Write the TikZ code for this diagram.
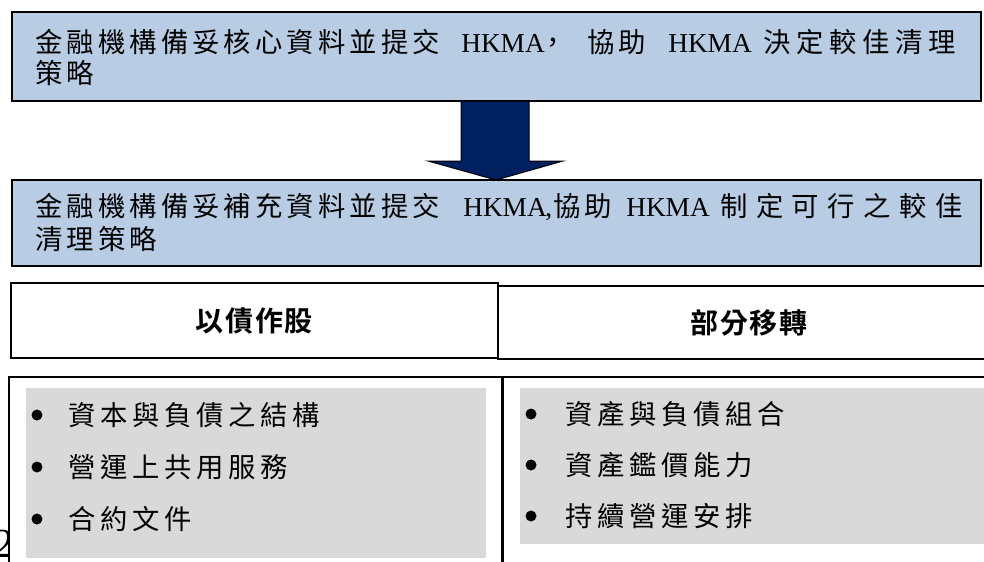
\documentclass[tikz,border=0pt]{standalone}
\usepackage{fontspec}
\setmainfont{Liberation Serif}
\newfontfamily\cjk[LetterSpace=15]{Noto Sans CJK TC}
\newfontfamily\cjkl[LetterSpace=17]{Noto Sans CJK TC}
\newfontfamily\cjkm[LetterSpace=21]{Noto Sans CJK TC}
\newfontfamily\cjkw[LetterSpace=31]{Noto Sans CJK TC}
\newfontfamily\cjkh[LetterSpace=6]{Noto Sans CJK TC Bold}
\newdimen\pxu \pxu=0.75pt
\newcommand\mkseg[2]{\makebox[#1\pxu][l]{#2}}
\definecolor{boxblue}{HTML}{B8CCE4}
\definecolor{navy}{HTML}{002060}
\definecolor{framegray}{HTML}{D9D9D9}
\tikzset{
  bluebox/.style={draw=black, line width=1.6\pxu, fill=boxblue, inner sep=0pt},
  headbox/.style={draw=black, line width=1.6\pxu, fill=white, inner sep=0pt,
    font=\fontsize{21pt}{24pt}\selectfont\cjkh},
  listbox/.style={draw=black, line width=2.4\pxu, fill=white, inner sep=0pt},
  grayframe/.style={fill=framegray, draw=none, inner sep=0pt},
  txt/.style={anchor=west, inner sep=0pt, font=\fontsize{20.5pt}{24pt}\selectfont},
  item/.style={txt, font=\fontsize{20.5pt}{24pt}\selectfont\cjkl},
  dot/.style={circle, fill=black, inner sep=0pt, minimum size=11\pxu},
  bigarrow/.style={fill=navy, draw=black, line width=1\pxu, line join=miter}
}
\begin{document}
\begin{tikzpicture}[x=0.75pt, y=-0.75pt]
\useasboundingbox (0,0) rectangle (984,561);

% stray page-number glyph partly hidden behind the list box
\node[anchor=south, inner sep=0pt, font=\fontsize{31pt}{31pt}\selectfont] (pg) at (4,558) {2};

% top box
\node[bluebox, minimum width=969\pxu, minimum height=89\pxu] (b1) at (496.5,56.5) {};
\node[txt] (t1a) at (35,42) {\mkseg{426}{\cjk 金融機構備妥核心資料並提交}\mkseg{78}{HKMA}\mkseg{48}{\cjk ，}\mkseg{81}{\cjk 協助}\mkseg{95}{HKMA}{\cjkm 決定較佳清理}};
\node[txt] (t1b) at (35,73) {\cjk 策略};

% second box
\node[bluebox, minimum width=969\pxu, minimum height=86\pxu] (b2) at (496.5,223) {};
\node[txt] (t2a) at (35,207) {\mkseg{428}{\cjk 金融機構備妥補充資料並提交}\mkseg{82}{HKMA}\mkseg{8}{,}\mkseg{73}{\cjk 協助}\mkseg{94}{HKMA}{\cjkw 制定可行之較佳}};
\node[txt] (t2b) at (35,239) {\cjk 清理策略};

% block arrow from b1 to b2
\coordinate (aTL) at (461,101);
\coordinate (aTR) at (529,101);
\coordinate (aTip) at (496,180);
\draw[bigarrow] (aTL) -- (461,161) -- (428,161) -- (aTip) -- (563,161) -- (529,161) -- (aTR) -- cycle;

% header boxes
\node[headbox, minimum width=487\pxu, minimum height=75\pxu] (h1) at (254.5,320.5) {以債作股};
\node[headbox, minimum width=502\pxu, minimum height=73\pxu] (h2) at (749,322.5) {部分移轉};

% list boxes
\node[listbox, minimum width=493\pxu, minimum height=240\pxu] (L) at (255.5,497) {};
\node[listbox, minimum width=497\pxu, minimum height=240\pxu] (R) at (751.5,497) {};
\node[grayframe, minimum width=460\pxu, minimum height=170\pxu] (g1) at (256,473) {};
\node[grayframe, minimum width=470\pxu, minimum height=156\pxu] (g2) at (755,466) {};

% left list
\node[dot] (d1) at (37,415) {};
\node[item] (l1) at (68,415) {資本與負債之結構};
\node[dot] (d2) at (37,467) {};
\node[item] (l2) at (68,467) {營運上共用服務};
\node[dot] (d3) at (37,519) {};
\node[item] (l3) at (68,519) {合約文件};

% right list
\node[dot] (e1) at (531,414) {};
\node[item] (r1) at (565,414) {資產與負債組合};
\node[dot] (e2) at (531,465) {};
\node[item] (r2) at (565,465) {資產鑑價能力};
\node[dot] (e3) at (531,516) {};
\node[item] (r3) at (565,516) {持續營運安排};
\end{tikzpicture}
\end{document}
